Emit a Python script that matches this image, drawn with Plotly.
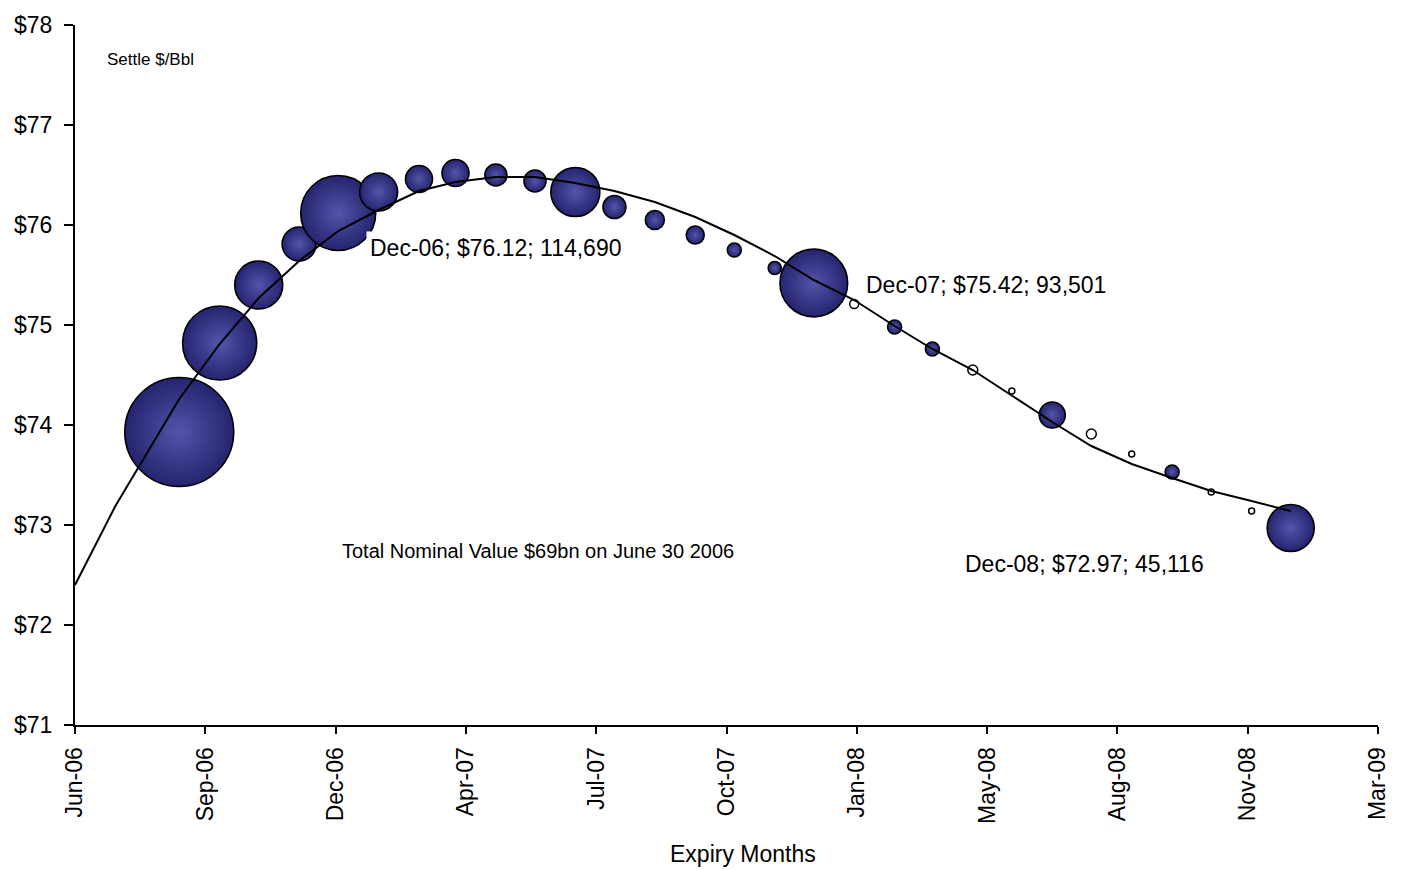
import plotly.graph_objects as go
import pandas as pd

# ---------------- data ----------------
contracts = ["Aug-06", "Sep-06", "Oct-06", "Nov-06", "Dec-06",
             "Jan-07", "Feb-07", "Mar-07", "Apr-07", "May-07", "Jun-07",
             "Jul-07", "Aug-07", "Sep-07", "Oct-07", "Nov-07", "Dec-07",
             "Jan-08", "Feb-08", "Mar-08", "Apr-08", "May-08", "Jun-08",
             "Jul-08", "Aug-08", "Sep-08", "Oct-08", "Nov-08", "Dec-08"]

settle = [73.93, 74.82, 75.40, 75.81, 76.12,
          76.33, 76.46, 76.52, 76.50, 76.44, 76.33,
          76.18, 76.05, 75.90, 75.75, 75.57, 75.42,
          75.21, 74.98, 74.76, 74.55, 74.34, 74.10,
          73.91, 73.71, 73.53, 73.33, 73.14, 72.97]

open_interest = [242000, 112000, 47000, 23600, 114690,
                 29500, 14900, 14900, 9900, 9900, 49000,
                 10800, 7400, 6600, 4000, 3450, 93501,
                 1650, 4000, 4000, 2000, 730, 13800,
                 2000, 730, 4000, 730, 730, 45116]

# smooth curve drawn through the strip
trend_lead_dates = ["2006-06-06", "2006-07-07"]
trend_lead_values = [72.40, 73.19]
trend_values = [74.26, 74.81, 75.27, 75.64, 75.94,
                76.15, 76.34, 76.43, 76.48, 76.48, 76.42,
                76.34, 76.23, 76.08, 75.90, 75.69, 75.45,
                75.25, 74.99, 74.76, 74.55, 74.29, 74.03,
                73.79, 73.61, 73.47, 73.34, 73.24, 73.14]

labels = {"Dec-06": "Dec-06; $76.12; 114,690",
          "Dec-07": "Dec-07; $75.42; 93,501",
          "Dec-08": "Dec-08; $72.97; 45,116"}

# ---------------- positions ----------------
month_dates = [pd.to_datetime(c, format="%b-%y") + pd.Timedelta(days=24) for c in contracts]
axis_start = pd.Timestamp("2006-06-06")
tick_step = pd.Timedelta(days=100)
tickvals = [axis_start + tick_step * i for i in range(11)]
axis_end = tickvals[-1]

k = 0.1107  # px radius per sqrt(contract)
sizeref = 1.0 / (2 * k * k)

FONT = "Liberation Sans, Arial, sans-serif"

filled = [i for i, v in enumerate(open_interest) if v >= 3000]
hollow = [i for i, v in enumerate(open_interest) if v < 3000]

fig = go.Figure()

# radial gradient: gradient.color at the centre, marker.color at the rim
fig.add_trace(go.Scatter(
    x=[month_dates[i] for i in filled],
    y=[settle[i] for i in filled],
    mode="markers",
    marker=dict(size=[open_interest[i] for i in filled], sizemode="area",
                sizeref=sizeref, color="#24246f",
                gradient=dict(type="radial", color="#5454ab"),
                line=dict(color="black", width=1.6), opacity=1),
    hoverinfo="skip", showlegend=False))

fig.add_trace(go.Scatter(
    x=[month_dates[i] for i in hollow],
    y=[settle[i] for i in hollow],
    mode="markers",
    marker=dict(size=[open_interest[i] for i in hollow], sizemode="area",
                sizeref=sizeref, color="white",
                line=dict(color="black", width=1.5), opacity=1),
    hoverinfo="skip", showlegend=False))

fig.add_trace(go.Scatter(
    x=[pd.Timestamp(d) for d in trend_lead_dates] + month_dates,
    y=trend_lead_values + trend_values,
    mode="lines", line=dict(color="black", width=2),
    hoverinfo="skip", showlegend=False))

W, H = 1403, 870
L, R, T, B = 75, 25, 21, 145
pw, ph = W - L - R, H - T - B


def px(xp):
    return (xp - L) / pw


def py(yp):
    return (H - B - yp) / ph


annotations = [
    dict(text="Settle $/Bbl", x=px(105), y=py(56), font=dict(size=17)),
    dict(text=labels["Dec-06"], x=px(366), y=py(245), font=dict(size=23),
         bgcolor="white", borderpad=3),
    dict(text=labels["Dec-07"], x=px(862), y=py(282), font=dict(size=23),
         bgcolor="white", borderpad=3),
    dict(text=labels["Dec-08"], x=px(961), y=py(563), font=dict(size=23),
         bgcolor="white", borderpad=3),
    dict(text="Total Nominal Value $69bn on June 30 2006", x=px(340), y=py(550),
         font=dict(size=20)),
]
for a in annotations:
    a.update(xref="paper", yref="paper", xanchor="left", yanchor="middle",
             showarrow=False)
    a["font"].update(family=FONT, color="black")

annotations.append(dict(text="Expiry Months", x=px(743), y=py(855), xref="paper",
                        yref="paper", xanchor="center", yanchor="middle",
                        showarrow=False,
                        font=dict(family=FONT, size=23, color="black")))

fig.update_layout(
    width=W, height=H,
    margin=dict(l=L, r=R, t=T, b=B),
    paper_bgcolor="white", plot_bgcolor="white",
    font=dict(family=FONT, color="black"),
    annotations=annotations,
    xaxis=dict(type="date", range=[axis_start, axis_end], tickvals=tickvals,
               tickformat="%b-%y", tickangle=-90, showgrid=False, zeroline=False,
               showline=True, linecolor="black", linewidth=2,
               ticks="outside", ticklen=7, tickwidth=2, tickcolor="black",
               ticklabelstandoff=4,
               tickfont=dict(size=23, family=FONT, color="black")),
    yaxis=dict(range=[71, 78], tick0=71, dtick=1, tickprefix="$",
               showgrid=False, zeroline=False, showline=True,
               linecolor="black", linewidth=2, ticks="outside", ticklen=9,
               tickwidth=2, tickcolor="black", ticklabelstandoff=7,
               tickfont=dict(size=23, family=FONT, color="black")),
)

fig.write_html("out.html")
